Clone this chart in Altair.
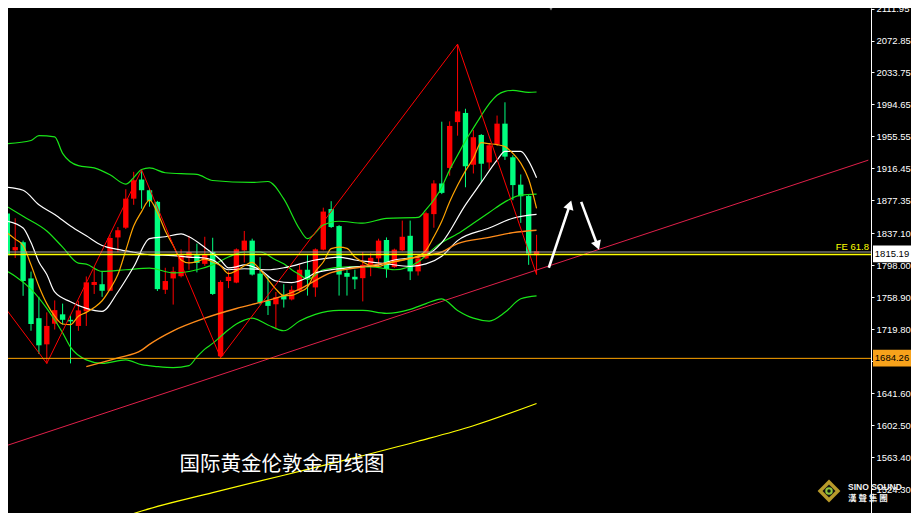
import altair as alt
import pandas as pd

# ---------------- data ----------------
# weekly candles (index 0 = leftmost, partly cut off)
c_open = [1861.4, 1816.3, 1826.2, 1782.0, 1733.4, 1701.4, 1726.6, 1738.1, 1731.4, 1723.9,
          1741.7, 1774.0, 1774.9, 1766.9, 1832.1, 1844.0, 1879.5, 1902.9, 1889.8, 1875.6,
          1768.1, 1782.0, 1784.7, 1807.2, 1810.4, 1799.8, 1814.3, 1686.8, 1778.8, 1776.9,
          1816.3, 1828.2, 1787.9, 1754.4, 1750.4, 1761.8, 1756.3, 1766.9, 1792.6, 1771.0,
          1817.2, 1866.9, 1846.0, 1788.7, 1784.0, 1782.3, 1798.6, 1806.5, 1829.0, 1795.8,
          1816.3, 1834.1, 1790.6, 1806.5, 1860.6, 1898.1, 1917.1, 1973.1, 1984.3, 1921.0,
          1957.4, 1923.8, 1945.5, 1971.2, 1930.1, 1896.6, 1882.7, 1810.4]
c_high = [1869.7, 1855.5, 1828.2, 1790.3, 1759.5, 1740.5, 1755.1, 1751.2, 1736.9, 1754.7,
          1784.4, 1796.2, 1790.3, 1835.3, 1844.8, 1891.0, 1912.3, 1914.7, 1892.2, 1876.8,
          1795.0, 1796.2, 1817.5, 1834.1, 1824.6, 1832.9, 1831.7, 1779.6, 1790.6, 1818.7,
          1840.0, 1830.6, 1808.1, 1784.7, 1765.4, 1774.9, 1772.9, 1798.6, 1810.4, 1818.7,
          1868.5, 1876.4, 1847.2, 1792.6, 1792.6, 1814.3, 1812.8, 1830.6, 1832.1, 1818.4,
          1852.7, 1852.7, 1811.6, 1863.7, 1902.0, 1973.6, 1974.0, 2068.4, 1989.4, 1963.3,
          1958.5, 1946.7, 1981.1, 1997.3, 1932.5, 1909.1, 1883.9, 1835.3]
c_low = [1802.1, 1806.9, 1760.7, 1718.0, 1689.6, 1677.7, 1719.5, 1725.5, 1678.1, 1718.0,
         1723.9, 1763.0, 1759.5, 1766.6, 1814.0, 1842.4, 1872.0, 1867.3, 1869.7, 1766.6,
         1763.0, 1750.0, 1783.2, 1792.6, 1789.4, 1797.4, 1761.8, 1685.4, 1770.1, 1776.1,
         1801.3, 1785.5, 1750.0, 1737.3, 1720.7, 1746.4, 1755.1, 1766.0, 1761.0, 1759.5,
         1816.3, 1843.6, 1761.0, 1761.0, 1768.9, 1753.9, 1784.7, 1796.2, 1782.8, 1795.0,
         1815.2, 1780.0, 1785.5, 1805.7, 1844.0, 1885.1, 1907.6, 1956.5, 1893.4, 1910.3,
         1900.1, 1915.1, 1944.3, 1926.9, 1877.6, 1849.9, 1798.6, 1786.7]
c_close = [1810.4, 1820.3, 1778.8, 1726.3, 1700.2, 1723.9, 1743.2, 1731.4, 1729.5, 1742.9,
           1777.2, 1777.6, 1766.9, 1831.4, 1840.9, 1879.5, 1902.0, 1889.8, 1876.8, 1768.9,
           1778.8, 1790.6, 1810.4, 1814.3, 1800.9, 1811.6, 1763.0, 1777.6, 1784.0, 1817.5,
           1828.2, 1786.7, 1752.4, 1748.4, 1759.1, 1756.3, 1768.1, 1792.6, 1782.0, 1817.5,
           1863.7, 1844.8, 1786.7, 1784.0, 1780.8, 1798.6, 1807.2, 1828.2, 1793.5, 1817.2,
           1832.9, 1790.6, 1806.5, 1861.7, 1898.1, 1886.6, 1968.4, 1986.2, 1919.1, 1954.6,
           1922.2, 1944.7, 1971.2, 1930.9, 1896.1, 1882.4, 1812.4, 1815.19]

# Bollinger bands (green)
bb_up_i = [0, 3, 4, 6, 7, 9, 11, 13, 15, 16, 17, 18, 20, 24, 26, 31, 33, 35, 37, 38, 40, 42, 45,
           48, 52, 53, 55, 56, 57, 58, 59, 60, 61, 62, 63, 64, 66, 67]
bb_up_v = [1946.7, 1950.6, 1956.5, 1955.0, 1934.9, 1919.8, 1917.1, 1908.8, 1897.3, 1905.2, 1915.1,
           1917.1, 1911.2, 1909.1, 1901.7, 1899.3, 1900.5, 1879.2, 1842.4, 1830.6, 1847.2, 1851.9,
           1849.5, 1855.5, 1856.6, 1866.1, 1893.4, 1914.7, 1932.5, 1950.3, 1965.7, 1981.1, 1995.3,
           2005.9, 2010.7, 2011.9, 2009.5, 2009.9]
bb_mid_i = [0, 2, 5, 7, 9, 10, 12, 15, 18, 21, 24, 26, 28, 30, 32, 34, 35, 36, 37, 38, 40, 43, 46,
            49, 52, 54, 55, 57, 59, 61, 63, 65, 67]
bb_mid_v = [1869.7, 1857.9, 1840.0, 1820.3, 1800.6, 1799.4, 1790.6, 1792.6, 1794.7, 1788.7, 1792.6,
            1798.6, 1808.1, 1814.3, 1814.3, 1804.5, 1799.8, 1792.6, 1786.7, 1780.8, 1792.6, 1796.2,
            1796.2, 1792.6, 1802.1, 1818.7, 1825.8, 1836.5, 1849.5, 1862.6, 1875.6, 1883.9, 1885.1]
bb_lo_i = [0, 1, 3, 5, 7, 8, 10, 12, 15, 17, 19, 21, 23, 24, 25, 26, 27, 28, 29, 30, 31, 33, 35,
           37, 39, 42, 45, 48, 51, 53, 55, 57, 59, 61, 63, 65, 67]
bb_lo_v = [1790.6, 1784.7, 1768.9, 1745.3, 1715.6, 1697.9, 1682.4, 1678.1, 1682.4, 1676.5, 1674.2,
           1673.0, 1675.4, 1686.0, 1695.5, 1702.6, 1710.9, 1719.2, 1726.3, 1731.0, 1733.4, 1725.1,
           1718.0, 1729.9, 1738.1, 1742.9, 1742.9, 1739.3, 1744.1, 1751.2, 1757.1, 1742.9, 1733.4,
           1729.9, 1740.5, 1757.1, 1760.7]

# white averages
w_fast_i = [0, 2, 3, 4, 5, 6, 8, 10, 12, 14, 16, 18, 20, 22, 23, 25, 27, 28, 29, 30, 32, 34, 36,
            38, 39, 43, 47, 49, 51, 53, 55, 58, 60, 62, 63, 65, 66, 67]
w_fast_v = [1851.9, 1843.6, 1825.8, 1802.1, 1786.7, 1765.4, 1753.5, 1745.3, 1741.7, 1765.4, 1796.2,
            1830.6, 1832.9, 1836.5, 1832.9, 1819.9, 1804.5, 1795.0, 1796.2, 1798.6, 1792.6, 1778.8,
            1776.9, 1783.2, 1788.7, 1795.0, 1798.6, 1804.5, 1806.9, 1810.4, 1825.8, 1872.0, 1899.3,
            1926.6, 1937.2, 1937.2, 1925.4, 1905.2]
w_slow_i = [0, 2, 4, 6, 8, 10, 12, 14, 16, 18, 21, 23, 25, 26, 28, 30, 33, 35, 39, 42, 44, 46, 48,
            51, 53, 55, 57, 61, 64, 67]
w_slow_v = [1893.4, 1889.8, 1872.0, 1860.2, 1846.0, 1834.1, 1822.3, 1817.5, 1814.0, 1811.0, 1809.8,
            1808.1, 1806.9, 1804.5, 1792.6, 1793.8, 1792.6, 1795.0, 1804.5, 1808.1, 1804.5, 1802.1,
            1799.8, 1796.8, 1799.8, 1809.2, 1828.2, 1843.6, 1855.5, 1860.2]

# orange averages
o_fast_i = list(range(0, 68))
o_fast_v = [1837.7, 1830.0, 1822.3, 1798.6, 1772.5, 1751.2, 1735.8, 1726.3, 1725.5, 1735.8,
            1740.5, 1746.4, 1754.7, 1768.9, 1786.7, 1816.3, 1846.0, 1863.7, 1877.6, 1862.6,
            1840.0, 1822.3, 1804.5, 1800.9, 1802.5, 1805.7, 1802.1, 1797.4, 1787.9, 1791.5,
            1797.4, 1801.5, 1792.6, 1780.8, 1768.9, 1761.0, 1761.3, 1765.4, 1771.3, 1790.3,
            1802.1, 1818.4, 1820.3, 1818.7, 1808.1, 1802.1, 1797.4, 1796.6, 1799.8, 1802.5,
            1804.5, 1806.9, 1809.2, 1816.3, 1832.9, 1851.9, 1875.6, 1895.8, 1913.5, 1928.9,
            1947.9, 1946.7, 1945.5, 1943.1, 1934.9, 1923.0, 1903.2, 1867.7]
o_slow_i = [10, 14, 17, 18, 21, 25, 29, 33, 35, 37, 41, 45, 49, 52, 55, 57, 61, 64, 67]
o_slow_v = [1674.2, 1684.8, 1694.3, 1701.4, 1718.0, 1733.4, 1745.2, 1755.1, 1761.0, 1768.9,
            1789.1, 1796.2, 1802.5, 1808.4, 1814.3, 1824.6, 1832.1, 1838.0, 1840.9]

# long yellow average (bottom)
y_long_i = [16, 17, 26, 35, 44, 52, 59, 67]
y_long_v = [1494.6, 1497.6, 1520.1, 1541.4, 1562.8, 1582.9, 1601.9, 1629.1]

# zigzag (red) and trend line (crimson)
zz_i = [0, 5, 17, 27, 57, 67]
zz_v = [1742.5, 1678.1, 1914.7, 1685.0, 2068.4, 1786.7]
tl_i = [0, 109]
tl_v = [1577.9, 1926.6]

# horizontal levels
lvl_fe = 1814.3
lvl_yellow = 1811.3
lvl_low = 1684.26

# arrows (tail -> head)
ar_id = [1, 1, 2, 2]
ar_i = [68.55, 71.21, 72.65, 74.71]
ar_v = [1795.0, 1872.0, 1875.6, 1822.3]

# price axis labels
ticks = [2111.95, 2072.85, 2033.75, 1994.65, 1955.55, 1916.45, 1877.35, 1837.10,
         1798.00, 1758.90, 1719.80, 1680.70, 1641.60, 1602.50, 1563.40, 1524.30]
box_txt = ["1815.19", "1684.26"]
box_val = [1812.0, 1684.6]
title_txt = "国际黄金伦敦金周线图"

# ---------------- chart ----------------
W, H = 863, 505
X_DOM = [0.0875, 109.3375]
Y_DOM = [1495.2, 2112.6]
xs = alt.Scale(domain=X_DOM, nice=False, zero=False)
ys = alt.Scale(domain=Y_DOM, nice=False, zero=False)
ppx = (Y_DOM[1] - Y_DOM[0]) / H  # price per pixel

yaxis = alt.Axis(orient="right", values=ticks, format=".2f", labelColor="#ffffff",
                 labelFont="Liberation Sans", labelFontSize=9.5, tickColor="#ffffff",
                 tickSize=3, domainColor="#ffffff", domainWidth=1, labelPadding=2,
                 grid=False, title=None, labelOverlap=False)


def X(f="i:Q"):
    return alt.X(f, scale=xs, axis=None)


def Y(f="v:Q"):
    return alt.Y(f, scale=ys, axis=yaxis)


def line(ix, vals, color, width, interp="monotone"):
    df = pd.DataFrame({"i": ix, "v": vals})
    return alt.Chart(df).mark_line(color=color, strokeWidth=width, interpolate=interp,
                                   clip=True).encode(x=X(), y=Y())


def hrule(v, color, width):
    return alt.Chart(pd.DataFrame({"v": [v]})).mark_rule(color=color, strokeWidth=width).encode(y=Y())


cdf = pd.DataFrame({"i": list(range(len(c_open))), "o": c_open, "h": c_high,
                    "l": c_low, "c": c_close})
cdf["col"] = ["#ff0000" if c > o else "#00ff7f" for o, c in zip(cdf["o"], cdf["c"])]
cdf["x1"] = cdf["i"] - 0.34
cdf["x2"] = cdf["i"] + 0.34

wicks = alt.Chart(cdf).mark_rule(strokeWidth=1, clip=True).encode(
    x=X(), y=Y("l:Q"), y2="h:Q", color=alt.Color("col:N", scale=None))
bodies = alt.Chart(cdf).mark_rect(clip=True).encode(
    x=X("x1:Q"), x2="x2:Q", y=Y("o:Q"), y2="c:Q", color=alt.Color("col:N", scale=None))

green = "#19e619"
layers = [
    wicks, bodies,
    line(y_long_i, y_long_v, "#ffff00", 1.2),
    line(tl_i, tl_v, "#e0204a", 1.0, interp="linear"),
    line(bb_up_i, bb_up_v, green, 1.2),
    line(bb_mid_i, bb_mid_v, green, 1.2),
    line(bb_lo_i, bb_lo_v, green, 1.2),
    line(w_slow_i, w_slow_v, "#ffffff", 1.2),
    line(w_fast_i, w_fast_v, "#ffffff", 1.2),
    line(o_slow_i, o_slow_v, "#ff8c1a", 1.4),
    line(o_fast_i, o_fast_v, "#ffa500", 1.2),
    line(zz_i, zz_v, "#ff0000", 1.0, interp="linear"),
    hrule(lvl_low, "#ffa500", 1.0),
    hrule(lvl_fe, "#a8a8a8", 1.2),
    hrule(lvl_yellow, "#ffff00", 1.5),
]

# arrows
adf = pd.DataFrame({"id": ar_id, "i": ar_i, "v": ar_v})
layers.append(alt.Chart(adf).mark_line(color="#ffffff", strokeWidth=2.6).encode(
    x=X(), y=Y(), detail="id:N"))
heads = adf.groupby("id").tail(1).reset_index(drop=True)
layers.append(alt.Chart(heads.iloc[[0]]).mark_point(
    shape="triangle-up", filled=True, size=110, color="#ffffff", opacity=1, angle=18
).encode(x=X(), y=Y()))
layers.append(alt.Chart(heads.iloc[[1]]).mark_point(
    shape="triangle-up", filled=True, size=110, color="#ffffff", opacity=1, angle=160
).encode(x=X(), y=Y()))

# FE 61.8 label
layers.append(alt.Chart(pd.DataFrame({"v": [lvl_fe], "t": ["FE 61.8"]})).mark_text(
    align="right", baseline="alphabetic", dy=-1.5, font="Liberation Sans", fontSize=9.5,
    color="#ffff00").encode(x=alt.value(861), y=Y(), text="t:N"))

# price boxes on the axis
bdf = pd.DataFrame({"v": box_val, "t": box_txt, "fill": ["#ffffff", "#f7a21b"]})
bdf["lo"] = bdf["v"] - 8.3 * ppx
bdf["hi"] = bdf["v"] + 8.3 * ppx
layers.append(alt.Chart(bdf).mark_rect().encode(
    x=alt.value(W + 2), x2=alt.value(W + 40), y=Y("lo:Q"), y2="hi:Q",
    color=alt.Color("fill:N", scale=None)))
layers.append(alt.Chart(bdf).mark_text(
    align="center", baseline="middle", font="Liberation Sans", fontSize=9.5, color="#000000"
).encode(x=alt.value(W + 21), y=Y(), text="t:N"))

# title
layers.append(alt.Chart(pd.DataFrame({"t": [title_txt]})).mark_text(
    align="center", baseline="middle", font="Noto Sans CJK SC", fontSize=20.5,
    color="#ffffff").encode(x=alt.value(274), y=alt.value(457), text="t:N"))

# logo
logo = pd.DataFrame({"k": [0]})
layers.append(alt.Chart(logo).mark_point(shape="diamond", filled=True, size=520,
                                         color="#b89a2a", opacity=1).encode(
    x=alt.value(821), y=alt.value(483)))
layers.append(alt.Chart(logo).mark_point(shape="diamond", filled=True, size=170,
                                         color="#111111", opacity=1).encode(
    x=alt.value(821), y=alt.value(483)))
layers.append(alt.Chart(logo).mark_point(shape="circle", filled=False, size=30,
                                         color="#8cc63f", strokeWidth=2, opacity=1).encode(
    x=alt.value(821), y=alt.value(483)))
layers.append(alt.Chart(pd.DataFrame({"t": ["SINO SOUND"]})).mark_text(
    align="left", baseline="alphabetic", font="Liberation Sans", fontSize=8.5,
    fontWeight="bold", color="#f0f0f0").encode(x=alt.value(840), y=alt.value(481.5), text="t:N"))
layers.append(alt.Chart(pd.DataFrame({"t": ["漢  聲  集  團"]})).mark_text(
    align="left", baseline="alphabetic", font="Noto Sans CJK TC", fontSize=8.5,
    fontWeight="bold", color="#f0f0f0").encode(x=alt.value(840), y=alt.value(492.5), text="t:N"))

# chart shift marker at the top
layers.append(alt.Chart(logo).mark_point(shape="triangle-down", filled=True, size=14,
                                         color="#888888", opacity=1).encode(
    x=alt.value(543), y=alt.value(1)))

chart = alt.layer(*layers).properties(
    width=W, height=H, background="#000000",
    autosize=alt.AutoSizeParams(type="none"),
    padding={"left": 0, "top": 0, "right": 40, "bottom": 0},
).configure_view(stroke=None)

chart.save("out.html", embed_options={"renderer": "svg", "actions": False})
